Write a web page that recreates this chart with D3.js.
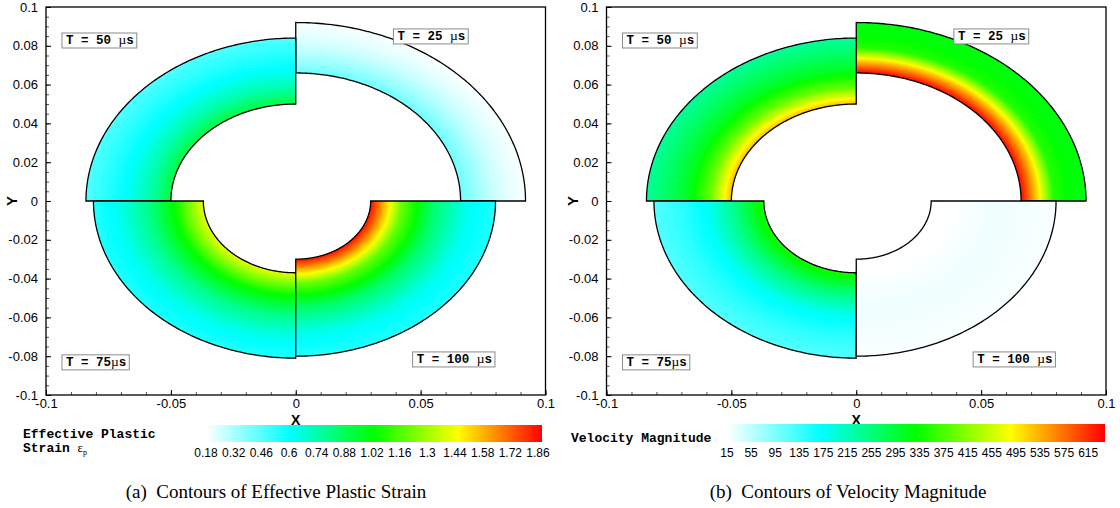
<!DOCTYPE html>
<html>
<head>
<meta charset="utf-8">
<script src="https://cdn.jsdelivr.net/npm/d3@7"></script>
<style>
  body { margin: 0; background: #fff; }
  svg { display: block; }
</style>
</head>
<body>
<svg id="chart" width="1120" height="508"></svg>
<script>
// ---- data -------------------------------------------------------------
// Quarter-ring snapshots, one per time step (counter-clockwise from +x axis)
const quarterLabels = ["T = 25 ", "T = 50 ", "T = 75", "T = 100 "];
const innerRadius = [0.066, 0.050, 0.037, 0.030];
const outerRadius = [0.092, 0.084, 0.081, 0.080];
// radial stations, 0 = inner edge, 1 = outer edge
const radialStations = [0, 0.25, 0.5, 0.75, 1];

// effective plastic strain along the radius
const strainT25  = [0.42, 0.34, 0.27, 0.22, 0.19];
const strainT50  = [0.92, 0.74, 0.62, 0.54, 0.47];
const strainT75  = [1.42, 1.05, 0.80, 0.64, 0.55];
const strainT100 = [1.86, 1.20, 0.85, 0.64, 0.55];

// velocity magnitude along the radius
const velocityT25  = [640, 510, 350, 325, 320];
const velocityT50  = [530, 390, 310, 268, 235];
const velocityT75  = [345, 250, 180, 145, 120];
const velocityT100 = [12, 18, 24, 22, 18];

// contour legend levels
const strainLevels = [0.18, 0.32, 0.46, 0.6, 0.74, 0.88, 1.02, 1.16, 1.3, 1.44, 1.58, 1.72, 1.86];
const velocityLevels = [15, 55, 95, 135, 175, 215, 255, 295, 335, 375, 415, 455, 495, 535, 575, 615];
const strainRange = [0.18, 1.88];
const velocityRange = [15, 643];

// axis ticks
const xTicks = [-0.1, -0.05, 0, 0.05, 0.1];
const yTicks = [-0.1, -0.08, -0.06, -0.04, -0.02, 0, 0.02, 0.04, 0.06, 0.08, 0.1];

// ---- layout -----------------------------------------------------------
const svg = d3.select("#chart");
const defs = svg.append("defs");
const plotTop = 7, plotBottom = 395, plotWidth = 499.5;
const panelLefts = [46, 606.5];
// label anchors (top-left of each box) in data units
const labelAnchors = [[0.0391, 0.0887], [-0.0936, 0.0866], [-0.0936, -0.0793], [0.0468, -0.0778]];
const quarterAngles = [[0, Math.PI / 2], [Math.PI / 2, Math.PI], [Math.PI, 1.5 * Math.PI], [1.5 * Math.PI, 2 * Math.PI]];

const colormap = d3.scaleLinear()
  .domain([0, 0.25, 0.5, 0.75, 1])
  .range(["#ffffff", "#00ffff", "#00ff00", "#ffff00", "#ff0000"])
  .clamp(true);

const fmt = d => String(+d.toFixed(3));

const panels = [
  { id: "a", left: panelLefts[0], profiles: [strainT25, strainT50, strainT75, strainT100], range: strainRange },
  { id: "b", left: panelLefts[1], profiles: [velocityT25, velocityT50, velocityT75, velocityT100], range: velocityRange }
];

panels.forEach(p => {
  const xs = d3.scaleLinear().domain([-0.1, 0.1]).range([p.left, p.left + plotWidth]);
  const ys = d3.scaleLinear().domain([-0.1, 0.1]).range([plotBottom, plotTop]);
  const kx = xs(1) - xs(0), ky = ys(0) - ys(1);
  const norm = d3.scaleLinear().domain(p.range).range([0, 1]);
  const g = svg.append("g");

  // quarter rings with radial contour flood
  p.profiles.forEach((prof, i) => {
    const r0 = innerRadius[i], r1 = outerRadius[i];
    const [a0, a1] = quarterAngles[i];
    const profile = d3.scaleLinear().domain(radialStations).range(prof);
    const gid = `grad-${p.id}-${i}`;
    const grad = defs.append("radialGradient")
      .attr("id", gid)
      .attr("gradientUnits", "userSpaceOnUse")
      .attr("cx", 0).attr("cy", 0).attr("r", r1 * kx)
      .attr("gradientTransform", `translate(${xs(0)},${ys(0)}) scale(1,${ky / kx})`);
    const N = 40;
    grad.append("stop").attr("offset", 0).attr("stop-color", colormap(norm(prof[0])));
    for (let k = 0; k <= N; k++) {
      const f = k / N;
      const rr = r0 + f * (r1 - r0);
      grad.append("stop")
        .attr("offset", rr / r1)
        .attr("stop-color", colormap(norm(profile(f))));
    }
    const n = 120, pts = [];
    for (let k = 0; k <= n; k++) {
      const a = a0 + (a1 - a0) * k / n;
      pts.push([xs(r1 * Math.cos(a)), ys(r1 * Math.sin(a))]);
    }
    for (let k = n; k >= 0; k--) {
      const a = a0 + (a1 - a0) * k / n;
      pts.push([xs(r0 * Math.cos(a)), ys(r0 * Math.sin(a))]);
    }
    g.append("path")
      .attr("d", d3.line()(pts) + "Z")
      .attr("fill", `url(#${gid})`)
      .attr("stroke", "#000")
      .attr("stroke-width", 1.3)
      .attr("stroke-linejoin", "miter");
  });

  // time labels
  quarterLabels.forEach((lab, i) => {
    const [ax, ay] = labelAnchors[i];
    const lg = g.append("g").attr("transform", `translate(${xs(ax)},${ys(ay)})`);
    const rect = lg.append("rect").attr("fill", "#fff").attr("stroke", "#8a8a8a").attr("stroke-width", 1);
    const t = lg.append("text")
      .attr("x", 4).attr("y", 11.5)
      .attr("font-family", "Liberation Mono, Courier New, monospace")
      .attr("font-weight", "bold").attr("font-size", 12.5).attr("fill", "#000");
    t.append("tspan").attr("xml:space", "preserve").text(lab);
    t.append("tspan").attr("font-family", "Liberation Serif, serif").attr("font-weight", "normal").attr("font-size", 13.5).text("µ");
    t.append("tspan").text("s");
    const bb = t.node().getBBox();
    rect.attr("x", 0).attr("y", 0).attr("width", bb.width + 7).attr("height", 15);
  });

  // axes
  const minorX = d3.range(-10, 11).map(v => v / 100);
  const minorY = d3.range(-20, 21).map(v => v / 200);
  g.append("g").attr("transform", `translate(0,${plotBottom})`)
    .call(d3.axisBottom(xs).tickValues(minorX).tickSize(-3).tickFormat(""))
    .call(s => s.select(".domain").remove())
    .selectAll("line").attr("stroke", "#555");
  g.append("g").attr("transform", `translate(${p.left},0)`)
    .call(d3.axisLeft(ys).tickValues(minorY).tickSize(-3).tickFormat(""))
    .call(s => s.select(".domain").remove())
    .selectAll("line").attr("stroke", "#555");
  const axX = g.append("g").attr("transform", `translate(0,${plotBottom})`)
    .call(d3.axisBottom(xs).tickValues(xTicks).tickSize(-5).tickPadding(4).tickFormat(fmt));
  const axY = g.append("g").attr("transform", `translate(${p.left},0)`)
    .call(d3.axisLeft(ys).tickValues(yTicks).tickSize(-5).tickPadding(8).tickFormat(fmt));
  [axX, axY].forEach(ax => {
    ax.select(".domain").remove();
    ax.selectAll("text").attr("font-family", "Liberation Sans, Arial, sans-serif").attr("font-size", 13).attr("fill", "#000");
  });
  g.append("rect")
    .attr("x", p.left).attr("y", plotTop)
    .attr("width", plotWidth).attr("height", plotBottom - plotTop)
    .attr("fill", "none").attr("stroke", "#000").attr("stroke-width", 1.3);

  g.append("text")
    .attr("x", xs(0)).attr("y", 425)
    .attr("text-anchor", "middle")
    .attr("font-family", "Liberation Sans, Arial, sans-serif")
    .attr("font-weight", "bold").attr("font-size", 14)
    .text("X");
  g.append("text")
    .attr("transform", `translate(${p.left - 29},${ys(0)}) rotate(-90)`)
    .attr("text-anchor", "middle")
    .attr("font-family", "Liberation Sans, Arial, sans-serif")
    .attr("font-weight", "bold").attr("font-size", 15)
    .text("Y");
});

// ---- contour legends ----------------------------------------------------
const legGrad = defs.append("linearGradient").attr("id", "legend-grad");
[0, 0.25, 0.5, 0.75, 0.875, 1].forEach(o => legGrad.append("stop").attr("offset", o).attr("stop-color", colormap(o)));

function colorBar(x0, x1, y0, y1, range, levels, labelY) {
  const s = d3.scaleLinear().domain(range).range([x0, x1]);
  svg.append("rect")
    .attr("x", x0).attr("y", y0).attr("width", x1 - x0).attr("height", y1 - y0)
    .attr("fill", "url(#legend-grad)");
  svg.append("g").selectAll("text").data(levels).join("text")
    .attr("x", d => s(d)).attr("y", labelY)
    .attr("text-anchor", "middle")
    .attr("font-family", "Liberation Sans, Arial, sans-serif")
    .attr("font-size", 12).attr("fill", "#000")
    .text(d => d);
}
colorBar(206, 542, 425, 442, strainRange, strainLevels, 457);
colorBar(727, 1105, 424, 442, velocityRange, velocityLevels, 457);

const monoBold = { "font-family": "Liberation Mono, Courier New, monospace", "font-weight": "bold", "font-size": 13 };
const t1 = svg.append("text").attr("x", 23).attr("y", 438);
Object.entries(monoBold).forEach(([k, v]) => t1.attr(k, v));
t1.text("Effective Plastic");
const t2 = svg.append("text").attr("x", 23).attr("y", 452);
Object.entries(monoBold).forEach(([k, v]) => t2.attr(k, v));
t2.append("tspan").attr("xml:space", "preserve").text("Strain ");
t2.append("tspan").attr("font-family", "Liberation Serif, serif").attr("font-weight", "normal").text("ε");
t2.append("tspan").attr("font-family", "Liberation Serif, serif").attr("font-weight", "normal")
  .attr("font-size", 8).attr("dy", 3).text("p");
const t3 = svg.append("text").attr("x", 571).attr("y", 442);
Object.entries(monoBold).forEach(([k, v]) => t3.attr(k, v));
t3.text("Velocity Magnitude");

// ---- captions -----------------------------------------------------------
const captions = [["(a)  Contours of Effective Plastic Strain", 276], ["(b)  Contours of Velocity Magnitude", 848]];
captions.forEach(([txt, cx]) => {
  svg.append("text")
    .attr("x", cx).attr("y", 498)
    .attr("text-anchor", "middle")
    .attr("xml:space", "preserve")
    .attr("font-family", "Liberation Serif, Times New Roman, serif")
    .attr("font-size", 19).attr("fill", "#000")
    .text(txt);
});
</script>
</body>
</html>
